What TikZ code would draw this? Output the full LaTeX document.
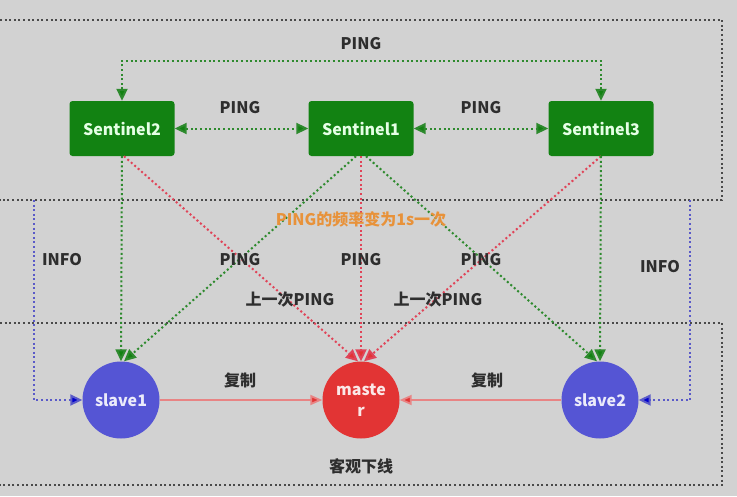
\documentclass[tikz,border=0pt]{standalone}
\usepackage{fontspec}
\setmainfont{Noto Sans CJK SC}
\usetikzlibrary{arrows.meta}
\definecolor{cbg}{HTML}{D2D2D2}
\definecolor{cbox}{HTML}{128212}
\definecolor{cgline}{HTML}{2E8A2E}
\definecolor{crline}{HTML}{E04458}
\definecolor{cbline}{HTML}{5A5AC8}
\definecolor{cgrey}{HTML}{4A4A4A}
\definecolor{cslave}{HTML}{5555D4}
\definecolor{cmaster}{HTML}{E23434}
\definecolor{clink}{HTML}{E88484}
\definecolor{corange}{HTML}{E8923A}
\definecolor{ctext}{HTML}{2E2E2E}
\tikzset{
  every picture/.style={x=1pt, y=-1pt, font=\bfseries\fontsize{16}{18}\selectfont},
  sentinel/.style={fill=cbox, rounded corners=3pt, text=white!90!green, minimum width=105pt, minimum height=55pt, inner sep=0pt},
  redis/.style={circle, fill=#1, text=white!88!#1, minimum size=77pt, inner sep=0pt, align=center},
  dots/.style={line width=2pt, dash pattern=on 2pt off 2.6pt},
  gping/.style={dots, draw=cgline, -{Triangle[length=12pt, width=11pt, fill=cbox]}},
  gboth/.style={dots, draw=cgline, {Triangle[length=12pt, width=11pt, fill=cbox]}-{Triangle[length=12pt, width=11pt, fill=cbox]}},
  rping/.style={dots, draw=crline, -{Triangle[length=12pt, width=11pt, fill=cmaster]}},
  info/.style={dots, draw=cbline, -{Triangle[length=12pt, width=11pt, fill=blue!80!black]}},
  frame/.style={dots, draw=cgrey},
  copy/.style={line width=1.8pt, draw=clink, -{Triangle[length=12pt, width=10pt, fill=cmaster]}},
  lbl/.style={text=ctext},
}
\begin{document}
\begin{tikzpicture}
  \fill[cbg] (0,0) rectangle (737,496);
  \useasboundingbox (0,0) rectangle (737,496);

  \draw[frame] (0,20) -- (722,20) -- (722,200) -- (0,200);
  \draw[frame] (0,323) -- (722,323) -- (722,485) -- (0,485);

  \node[sentinel] (s2) at (122,128.5) {Sentinel2};
  \node[sentinel] (s1) at (361,128.5) {Sentinel1};
  \node[sentinel] (s3) at (601,128.5) {Sentinel3};

  \node[redis=cslave] (slave1) at (121,400) {slave1};
  \node[redis=cmaster, font=\bfseries\fontsize{16}{21}\selectfont] (master) at (361,400) {maste\\r};
  \node[redis=cslave] (slave2) at (600,400) {slave2};

  \coordinate (looptop) at (361,61);
  \coordinate (info1) at (34,200);
  \coordinate (info2) at (690,200);

  \draw[gboth] (s2.north) |- (looptop) -| (s3.north);
  \draw[gboth] (s2) -- (s1);
  \draw[gboth] (s1) -- (s3);

  \draw[rping] ([xshift=2pt]s2.south) -- ([xshift=-3pt]master.north);
  \draw[rping] (s1.south) -- (master.north);
  \draw[rping] (s3.south) -- ([xshift=3pt]master.north);

  \draw[gping] (s2.south) -- (slave1.north);
  \draw[gping] ([xshift=-5pt]s1.south) -- ([xshift=3pt]slave1.north);
  \draw[gping] ([xshift=5pt]s1.south) -- ([xshift=-3pt]slave2.north);
  \draw[gping] (s3.south) -- (slave2.north);

  \draw[info] (info1) |- (slave1.west);
  \draw[info] (info2) |- (slave2.east);

  \draw[copy] (slave1) -- (master);
  \draw[copy] (slave2) -- (master);

  \node[lbl] (ptop) at (361,44) {PING};
  \node[lbl] (p21) at (240,108) {PING};
  \node[lbl] (p13) at (481,108) {PING};
  \node[text=corange] (freq) at (361,219) {PING的频率变为1s一次};
  \node[lbl] (infol) at (62,260) {INFO};
  \node[lbl] (infor) at (660,267) {INFO};
  \node[lbl] (pa) at (240,260) {PING};
  \node[lbl] (pb) at (361,260) {PING};
  \node[lbl] (pc) at (481,260) {PING};
  \node[lbl] (last1) at (290,300) {上一次PING};
  \node[lbl] (last2) at (438,300) {上一次PING};
  \node[lbl] (rep1) at (240,380) {复制};
  \node[lbl] (rep2) at (487,380) {复制};
  \node[lbl] (odown) at (361,466) {客观下线};
\end{tikzpicture}
\end{document}
